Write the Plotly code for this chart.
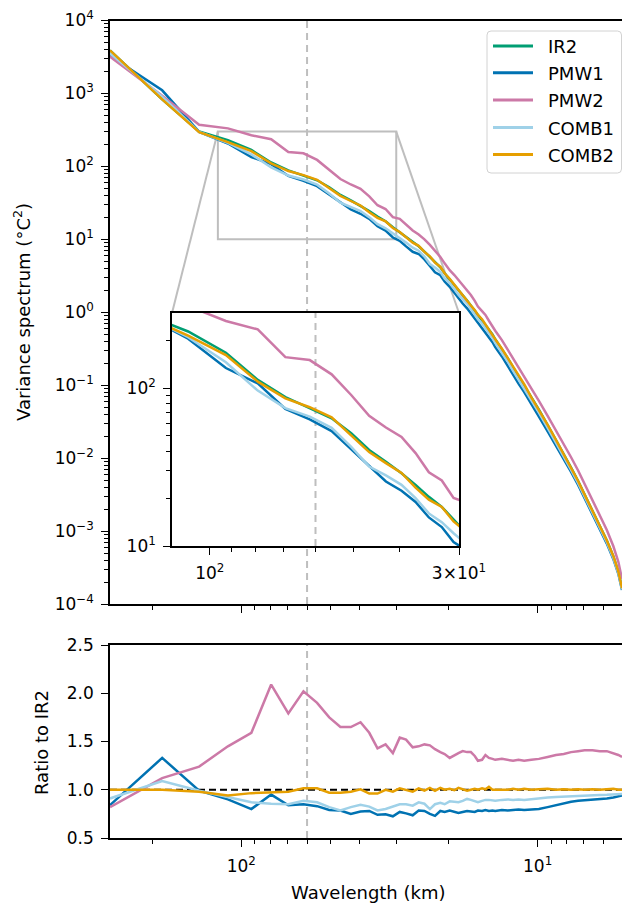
import math
import plotly.graph_objects as go

# ---------------- data ----------------
wavelength_km = [277.5, 185.0, 138.8, 111.0, 92.5, 79.3, 69.4, 61.7, 55.5, 50.5,
                 46.3, 42.7, 39.6, 37.0, 34.7, 32.6, 30.8, 29.2, 27.8, 26.4,
                 25.2, 24.1, 23.1, 22.2, 21.3, 20.6, 19.8, 19.1, 18.5, 17.9,
                 17.3, 16.8, 16.3, 15.9, 15.4, 15.0, 14.6, 14.2, 13.9,
                 13.2, 12.6, 12.1, 11.6, 11.1, 10.5, 9.9, 9.25, 8.67, 8.16,
                 7.71, 7.30, 6.94, 6.53, 6.17, 5.84, 5.55, 5.34, 5.19]

spec_ir2 = [3900, 830, 300, 229, 168, 113, 88, 74.7, 64.5, 51.8,
            40.6, 34.2, 28.9, 24.4, 20.5, 17.7, 14.6, 12.4, 10.6, 9.18,
            8.02, 6.79, 5.73, 4.84, 4.13, 3.42, 2.84, 2.38, 2.0, 1.71,
            1.45, 1.24, 1.06, 0.92, 0.79, 0.675, 0.575, 0.495, 0.426,
            0.314, 0.233, 0.175, 0.132, 0.102, 0.068, 0.0462, 0.0283, 0.0178, 0.0114,
            0.0074, 0.00484, 0.00316, 0.00191, 0.00121, 0.00074, 0.000448, 0.000279, 0.000165]

ratio_pmw1 = [0.84, 1.33, 0.99, 0.90, 0.80, 0.95, 0.84, 0.85, 0.83, 0.79,
              0.785, 0.75, 0.775, 0.78, 0.74, 0.745, 0.725, 0.77, 0.755, 0.735,
              0.785, 0.78, 0.75, 0.73, 0.78, 0.77, 0.785, 0.77, 0.76, 0.77,
              0.78, 0.775, 0.77, 0.785, 0.78, 0.79, 0.78, 0.785, 0.78,
              0.79, 0.785, 0.79, 0.795, 0.79, 0.795, 0.80, 0.82, 0.84, 0.86,
              0.875, 0.885, 0.89, 0.90, 0.905, 0.91, 0.92, 0.93, 0.94]

ratio_pmw2 = [0.82, 1.12, 1.24, 1.45, 1.59, 2.09, 1.79, 2.02, 1.90, 1.75,
              1.65, 1.65, 1.70, 1.59, 1.43, 1.47, 1.38, 1.54, 1.52, 1.44,
              1.45, 1.47, 1.46, 1.42, 1.39, 1.37, 1.33, 1.36, 1.38, 1.40,
              1.39, 1.39, 1.35, 1.30, 1.31, 1.36, 1.33, 1.32, 1.31,
              1.32, 1.31, 1.30, 1.31, 1.30, 1.31, 1.32, 1.34, 1.36, 1.37,
              1.39, 1.40, 1.41, 1.41, 1.40, 1.40, 1.38, 1.36, 1.34]

ratio_comb1 = [0.91, 1.09, 0.99, 0.92, 0.87, 0.855, 0.85, 0.885, 0.87, 0.82,
               0.785, 0.82, 0.845, 0.825, 0.785, 0.80, 0.825, 0.85, 0.85, 0.835,
               0.87, 0.855, 0.80, 0.85, 0.865, 0.85, 0.88, 0.875, 0.87, 0.885,
               0.905, 0.895, 0.88, 0.87, 0.885, 0.895, 0.895, 0.89, 0.887,
               0.895, 0.90, 0.895, 0.90, 0.895, 0.905, 0.91, 0.92, 0.925, 0.93,
               0.932, 0.935, 0.94, 0.942, 0.946, 0.948, 0.95, 0.953, 0.956]

ratio_comb2 = [1.0, 1.0, 0.98, 0.94, 0.965, 0.975, 0.98, 1.015, 1.015, 0.97,
               0.97, 0.98, 1.005, 0.96, 0.96, 1.0, 0.98, 1.015, 1.0, 0.98,
               1.015, 0.99, 1.02, 0.99, 1.02, 1.0, 1.01, 0.995, 1.02, 1.005,
               0.99, 1.0, 1.01, 1.0, 1.015, 1.005, 1.03, 1.0, 1.0,
               1.005, 1.0, 1.01, 1.0, 1.01, 1.0, 1.005, 1.01, 1.0, 1.005,
               1.0, 1.005, 1.0, 1.005, 1.0, 1.005, 1.01, 1.0, 1.0]

series_names = ["IR2", "PMW1", "PMW2", "COMB1", "COMB2"]
series_colors = ["#009E73", "#0072B2", "#CC79A7", "#9FD1E8", "#E69F00"]

y_tickvals = [1e-4, 1e-3, 1e-2, 1e-1, 1e0, 1e1, 1e2, 1e3, 1e4]
y_ticktext = ["10<sup>−4</sup>", "10<sup>−3</sup>", "10<sup>−2</sup>", "10<sup>−1</sup>",
              "10<sup>0</sup>", "10<sup>1</sup>", "10<sup>2</sup>", "10<sup>3</sup>", "10<sup>4</sup>"]
x_tickvals = [100, 10]
x_ticktext = ["10<sup>2</sup>", "10<sup>1</sup>"]
x_minor = [200, 90, 80, 70, 60, 50, 40, 30, 20, 9, 8, 7, 6]
ratio_tickvals = [0.5, 1.0, 1.5, 2.0, 2.5]
ratio_ticktext = ["0.5", "1.0", "1.5", "2.0", "2.5"]
inset_x_tickvals = [100, 30]
inset_x_ticktext = ["10<sup>2</sup>", "3×10<sup>1</sup>"]
inset_x_minor = [90, 80, 70, 60, 50, 40]
inset_y_tickvals = [10, 100]
inset_y_ticktext = ["10<sup>1</sup>", "10<sup>2</sup>"]
inset_y_minor = [20, 30, 40, 50, 60, 70, 80, 90, 200]

marker_wavelength = 60
zoom_x = [120, 30]
zoom_y = [10, 300]

# ---------------- derived series ----------------
ratios = {"PMW1": ratio_pmw1, "PMW2": ratio_pmw2, "COMB1": ratio_comb1, "COMB2": ratio_comb2}
spectra = {"IR2": spec_ir2}
for k, r in ratios.items():
    spectra[k] = [s * q for s, q in zip(spec_ir2, r)]

# ---------------- layout geometry ----------------
W, H = 622, 904
def fx(p):
    return p / W
def fy(p):
    return 1 - p / H

main_xdom = [fx(110), 1.0]
main_ydom = [fy(604), fy(20.5)]
ratio_ydom = [fy(838), fy(645)]
inset_xdom = [fx(172), fx(459)]
inset_ydom = [fy(546), fy(313)]

xr = [math.log10(wavelength_km[0]), math.log10(wavelength_km[-1])]

FONT = "DejaVu Sans"
tickfont = dict(family=FONT, size=17, color="black")

def axis_common(**kw):
    d = dict(showline=True, linecolor="black", linewidth=1.6, ticks="outside",
             tickcolor="black", tickwidth=1.4, ticklen=7, showgrid=False,
             zeroline=False, tickfont=tickfont, tickmode="array", automargin=False)
    d.update(kw)
    return d

def minor(vals, ln=4):
    return dict(tickmode="array", tickvals=vals, ticks="outside", ticklen=ln,
                tickwidth=1.1, tickcolor="black", showgrid=False)

fig = go.Figure()

LW = 2.5
for name, col in zip(series_names, series_colors):
    fig.add_trace(go.Scatter(x=wavelength_km, y=spectra[name], mode="lines",
                             line=dict(color=col, width=LW), name=name,
                             showlegend=False, xaxis="x", yaxis="y"))
for name, col in zip(series_names, series_colors):
    if name == "IR2":
        continue
    fig.add_trace(go.Scatter(x=wavelength_km, y=ratios[name], mode="lines",
                             line=dict(color=col, width=LW), name=name,
                             showlegend=False, xaxis="x2", yaxis="y2"))
for name, col in zip(series_names, series_colors):
    fig.add_trace(go.Scatter(x=wavelength_km, y=spectra[name], mode="lines",
                             line=dict(color=col, width=LW), name=name,
                             showlegend=False, xaxis="x3", yaxis="y3"))

y_minor = [k * 10 ** e for e in range(-4, 4) for k in range(2, 10)]

fig.update_layout(
    template="none",
    width=W, height=H, autosize=False,
    margin=dict(l=0, r=0, t=0, b=0, pad=0),
    paper_bgcolor="white", plot_bgcolor="white",
    showlegend=False,
    xaxis=axis_common(type="log", domain=main_xdom, range=xr, anchor="y",
                      tickvals=x_tickvals, showticklabels=False, mirror=True,
                      minor=minor(x_minor)),
    yaxis=axis_common(type="log", domain=main_ydom, range=[-4, 4], anchor="x",
                      tickvals=y_tickvals, ticktext=y_ticktext, ticklabelstandoff=4,
                      minor=minor(y_minor)),
    xaxis2=axis_common(type="log", domain=main_xdom, range=xr, anchor="y2",
                       tickvals=x_tickvals, ticktext=x_ticktext, mirror=True,
                       ticklabelstandoff=5, minor=minor(x_minor)),
    yaxis2=axis_common(domain=ratio_ydom, range=[0.5, 2.5], anchor="x2",
                       tickvals=ratio_tickvals, ticktext=ratio_ticktext, ticklabelstandoff=4),
    xaxis3=axis_common(type="log", domain=inset_xdom,
                       range=[math.log10(zoom_x[0]), math.log10(zoom_x[1])], anchor="y3",
                       tickvals=inset_x_tickvals, ticktext=inset_x_ticktext, mirror=True,
                       ticklabelstandoff=4, minor=minor(inset_x_minor)),
    yaxis3=axis_common(type="log", domain=inset_ydom,
                       range=[math.log10(zoom_y[0]), math.log10(zoom_y[1])], anchor="x3",
                       tickvals=inset_y_tickvals, ticktext=inset_y_ticktext, mirror=True,
                       ticklabelstandoff=4, minor=minor(inset_y_minor)),
)

GRAY = "rgb(190,190,190)"
shapes = []
# vertical dashed marker in all three panels
for xr_, yr_, y0, y1 in [("x", "y", 1e-4, 1e4), ("x2", "y2", 0.5, 2.5),
                         ("x3", "y3", zoom_y[0], zoom_y[1])]:
    shapes.append(dict(type="line", xref=xr_, yref=yr_, x0=marker_wavelength,
                       x1=marker_wavelength, y0=y0, y1=y1, layer="below",
                       line=dict(color=GRAY, width=2, dash="7px,5px")))
# ratio = 1 reference line
shapes.append(dict(type="line", xref="x2", yref="y2", x0=wavelength_km[0],
                   x1=wavelength_km[-1], y0=1, y1=1, layer="below",
                   line=dict(color="black", width=2, dash="7px,4px")))
# zoom rectangle
shapes.append(dict(type="rect", xref="x", yref="y", x0=zoom_x[0], x1=zoom_x[1],
                   y0=zoom_y[0], y1=zoom_y[1], layer="below",
                   line=dict(color=GRAY, width=2)))

def main_to_paper(w, v):
    px = main_xdom[0] + (math.log10(w) - xr[0]) / (xr[1] - xr[0]) * (main_xdom[1] - main_xdom[0])
    py = main_ydom[0] + (math.log10(v) + 4) / 8 * (main_ydom[1] - main_ydom[0])
    return px, py

# connectors from zoom rectangle top corners to inset top corners
for (w, v), (ix, iy) in [((zoom_x[0], zoom_y[1]), (inset_xdom[0], inset_ydom[1])),
                         ((zoom_x[1], zoom_y[1]), (inset_xdom[1], inset_ydom[1]))]:
    px, py = main_to_paper(w, v)
    shapes.append(dict(type="line", xref="paper", yref="paper", x0=px, y0=py,
                       x1=ix, y1=iy, layer="below", line=dict(color=GRAY, width=2)))

# manual legend
lx0, lx1, ly0, ly1, rad = 487, 621.5, 31, 173, 4
path = (f"M {fx(lx0 + rad)},{fy(ly0)} L {fx(lx1 - rad)},{fy(ly0)} "
        f"Q {fx(lx1)},{fy(ly0)} {fx(lx1)},{fy(ly0 + rad)} L {fx(lx1)},{fy(ly1 - rad)} "
        f"Q {fx(lx1)},{fy(ly1)} {fx(lx1 - rad)},{fy(ly1)} L {fx(lx0 + rad)},{fy(ly1)} "
        f"Q {fx(lx0)},{fy(ly1)} {fx(lx0)},{fy(ly1 - rad)} L {fx(lx0)},{fy(ly0 + rad)} "
        f"Q {fx(lx0)},{fy(ly0)} {fx(lx0 + rad)},{fy(ly0)} Z")
shapes.append(dict(type="path", xref="paper", yref="paper", path=path, layer="above",
                   fillcolor="rgba(255,255,255,0.8)", line=dict(color="rgb(210,210,210)", width=1)))
annotations = []
legend_rows = [46, 72.8, 100, 127.5, 154.5]
for name, col, yy in zip(series_names, series_colors, legend_rows):
    shapes.append(dict(type="line", xref="paper", yref="paper", x0=fx(493), x1=fx(533),
                       y0=fy(yy), y1=fy(yy), layer="above", line=dict(color=col, width=3)))
    annotations.append(dict(text=name, x=fx(546), y=fy(yy + 0.5), xref="paper", yref="paper",
                            xanchor="left", yanchor="middle", showarrow=False,
                            font=dict(family=FONT, size=18, color="black")))

labfont = dict(family=FONT, size=18, color="black")
annotations.append(dict(text="Variance spectrum (°C<sup>2</sup>)", x=fx(22), y=fy(312),
                        xref="paper", yref="paper", textangle=-90, showarrow=False,
                        xanchor="center", yanchor="middle", font=labfont))
annotations.append(dict(text="Ratio to IR2", x=fx(41), y=fy(742), xref="paper", yref="paper",
                        textangle=-90, showarrow=False, xanchor="center", yanchor="middle",
                        font=labfont))
annotations.append(dict(text="Wavelength (km)", x=fx(368), y=fy(892), xref="paper", yref="paper",
                        showarrow=False, xanchor="center", yanchor="middle", font=labfont))

fig.update_layout(shapes=shapes, annotations=annotations)
fig.write_html("out.html")
